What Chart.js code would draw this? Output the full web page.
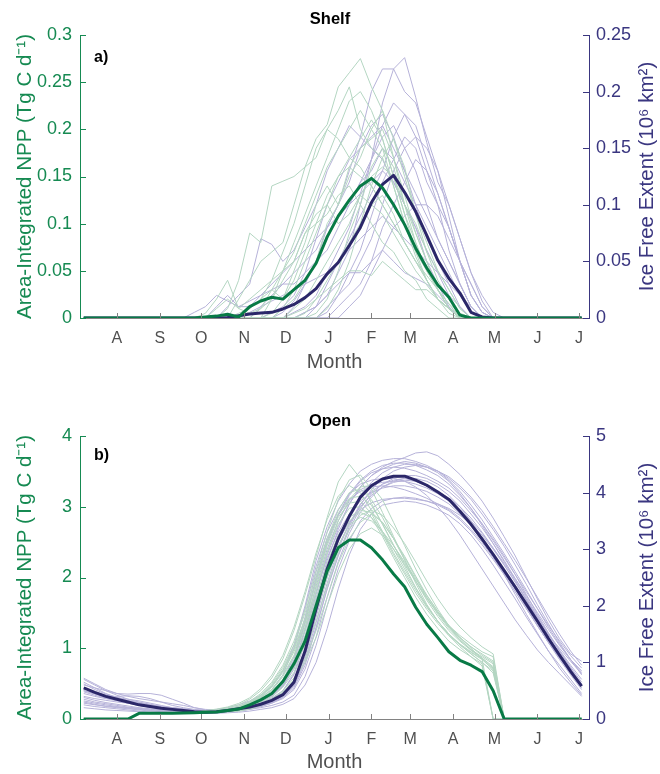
<!DOCTYPE html>
<html><head><meta charset="utf-8">
<script src="https://cdn.jsdelivr.net/npm/chart.js@4.4.1/dist/chart.umd.min.js"></script>
<style>
html,body{margin:0;padding:0;background:#fff;overflow:hidden;}
#wrap{position:relative;width:660px;height:774px;}
canvas{position:absolute;left:0;}
#cA{top:0;} #cB{top:390px;}
</style></head><body>
<div id="wrap">
<canvas id="cA" width="660" height="390"></canvas>
<canvas id="cB" width="660" height="384"></canvas>
</div>
<script>
// x positions: days relative to 1 August (8-day composites)
const DAYS = [-24,-16,-8,0,8,16,24,32,40,48, 56,64,72,80,88,96,104,112,120,128, 136,144,152,160,168,176,184,192,200,208, 216,224,232,240,248,256,264,272,280,288, 296,304,312,320,328,336];
const MONTH_DAYS = [0,31,61,92,122,153,184,212,243,273,304,334];
const MONTH_LABELS = ['A','S','O','N','D','J','F','M','A','M','J','J'];

// ---- Panel a: Shelf ----
const SHELF_NPP_MEAN = [0,0,0,0,0,0,0,0,0,0, 0,0.001,0.002,0.004,0.001,0.012,0.018,0.022,0.02,0.03, 0.04,0.058,0.086,0.108,0.125,0.14,0.148,0.138,0.12,0.099, 0.074,0.053,0.035,0.022,0.003,0,0,0,0,0, 0,0,0,0,0,0];
const SHELF_ICE_MEAN = [0,0,0,0,0,0,0,0,0,0, 0,0,0,0.0005,0.002,0.0035,0.0045,0.005,0.008,0.012, 0.018,0.026,0.039,0.049,0.064,0.08,0.102,0.118,0.126,0.111, 0.094,0.073,0.051,0.035,0.022,0.005,0.001,0,0,0, 0,0,0,0,0,0];
const SHELF_NPP_YEARS = [
 [0,0,0,0,0,0,0,0,0,0, 0,0,0,0.01,0.04,0.09,0.08,0.14,0.145,0.15, 0.16,0.19,0.205,0.245,0.26,0.275,0.245,0.22,0.17,0.12, 0.08,0.05,0.03,0.01,0,0,0,0,0,0, 0,0,0,0,0,0],
 [0,0,0,0,0,0,0,0,0,0, 0,0,0,0,0.02,0.04,0.06,0.07,0.08,0.12, 0.16,0.17,0.2,0.22,0.245,0.2,0.18,0.17,0.14,0.1, 0.07,0.05,0.03,0.015,0.005,0,0,0,0,0, 0,0,0,0,0,0],
 [0,0,0,0,0,0,0,0,0,0, 0,0,0,0,0,0,0,0,0.01,0.03, 0.06,0.09,0.12,0.15,0.16,0.18,0.19,0.2,0.17,0.13, 0.09,0.06,0.03,0.01,0,0,0,0,0,0, 0,0,0,0,0,0],
 [0,0,0,0,0,0,0,0,0,0, 0,0,0,0,0,0,0,0,0,0, 0.005,0.02,0.04,0.06,0.08,0.1,0.12,0.13,0.11,0.08, 0.06,0.04,0.02,0.005,0,0,0,0,0,0, 0,0,0,0,0,0],
 [0,0,0,0,0,0,0,0,0,0, 0,0,0,0,0,0,0,0,0,0.005, 0.01,0.02,0.03,0.04,0.05,0.05,0.045,0.06,0.05,0.04, 0.03,0.03,0.02,0.01,0,0,0,0,0,0, 0,0,0,0,0,0],
 [0,0,0,0,0,0,0,0,0,0, 0,0,0,0,0,0,0,0,0.01,0.02, 0.04,0.06,0.1,0.12,0.15,0.17,0.2,0.22,0.19,0.16, 0.11,0.07,0.04,0.02,0.005,0,0,0,0,0, 0,0,0,0,0,0],
 [0,0,0,0,0,0,0,0,0,0, 0,0,0,0,0,0,0.01,0.03,0.02,0.05, 0.08,0.12,0.14,0.12,0.16,0.15,0.14,0.12,0.1,0.08, 0.06,0.045,0.03,0.015,0,0,0,0,0,0, 0,0,0,0,0,0],
 [0,0,0,0,0,0,0,0,0,0, 0,0.005,0.02,0.04,0.01,0.02,0.03,0.04,0.05,0.06, 0.09,0.1,0.11,0.13,0.14,0.12,0.1,0.08,0.07,0.05, 0.04,0.02,0.01,0,0,0,0,0,0,0, 0,0,0,0,0,0],
 [0,0,0,0,0,0,0,0,0,0, 0,0,0,0,0,0,0,0,0,0, 0,0.005,0.02,0.05,0.09,0.12,0.16,0.18,0.16,0.12, 0.09,0.06,0.03,0.01,0,0,0,0,0,0, 0,0,0,0,0,0],
 [0,0,0,0,0,0,0,0,0,0, 0,0,0,0,0,0,0,0.02,0.05,0.07, 0.1,0.13,0.16,0.18,0.2,0.22,0.2,0.18,0.14,0.1, 0.065,0.04,0.02,0.01,0,0,0,0,0,0, 0,0,0,0,0,0],
 [0,0,0,0,0,0,0,0,0,0, 0,0,0,0,0,0,0,0.005,0.02,0.04, 0.07,0.1,0.13,0.15,0.17,0.19,0.21,0.19,0.15,0.11, 0.07,0.04,0.02,0.01,0,0,0,0,0,0, 0,0,0,0,0,0],
 [0,0,0,0,0,0,0,0,0,0, 0,0,0,0,0,0.01,0.02,0.03,0.05,0.08, 0.11,0.14,0.17,0.2,0.23,0.24,0.22,0.19,0.15,0.11, 0.08,0.05,0.03,0.01,0.005,0,0,0,0,0, 0,0,0,0,0,0],
 [0,0,0,0,0,0,0,0,0,0, 0,0,0,0,0,0,0,0,0,0.01, 0.02,0.04,0.06,0.08,0.1,0.13,0.15,0.16,0.15,0.12, 0.1,0.07,0.05,0.03,0.01,0,0,0,0,0, 0,0,0,0,0,0],
 [0,0,0,0,0,0,0,0,0,0, 0,0,0,0,0.005,0.01,0.02,0.04,0.07,0.1, 0.14,0.18,0.2,0.19,0.17,0.16,0.14,0.12,0.1,0.08, 0.06,0.04,0.02,0.01,0,0,0,0,0,0, 0,0,0,0,0,0],
 [0,0,0,0,0,0,0,0,0,0, 0,0,0,0,0,0,0,0,0,0, 0,0,0.01,0.03,0.06,0.1,0.14,0.17,0.19,0.15, 0.11,0.08,0.05,0.03,0.01,0,0,0,0,0, 0,0,0,0,0,0],
 [0,0,0,0,0,0,0,0,0,0, 0,0,0.01,0.02,0.01,0.005,0.01,0.02,0.04,0.06, 0.09,0.11,0.12,0.1,0.11,0.13,0.12,0.11,0.09,0.07, 0.05,0.035,0.02,0.01,0,0,0,0,0,0, 0,0,0,0,0,0]
];
const SHELF_ICE_YEARS = [
 [0,0,0,0,0,0,0,0,0,0, 0,0,0,0,0,0,0,0,0,0, 0.005,0.01,0.02,0.04,0.06,0.1,0.14,0.19,0.22,0.23, 0.195,0.155,0.12,0.1,0.07,0.04,0.015,0,0,0, 0,0,0,0,0,0],
 [0,0,0,0,0,0,0,0,0,0, 0,0,0,0,0,0,0,0,0,0.01, 0.03,0.05,0.08,0.1,0.13,0.16,0.2,0.22,0.22,0.2, 0.19,0.16,0.13,0.09,0.05,0.02,0.005,0,0,0, 0,0,0,0,0,0],
 [0,0,0,0,0,0,0,0,0,0, 0,0,0,0.01,0.02,0.03,0.07,0.065,0.05,0.06, 0.08,0.1,0.13,0.15,0.17,0.16,0.15,0.14,0.12,0.1, 0.08,0.05,0.03,0.01,0,0,0,0,0,0, 0,0,0,0,0,0],
 [0,0,0,0,0,0,0,0,0,0, 0,0,0,0,0,0,0,0,0,0, 0,0,0.005,0.02,0.04,0.06,0.09,0.12,0.14,0.16, 0.15,0.12,0.1,0.08,0.05,0.02,0.005,0,0,0, 0,0,0,0,0,0],
 [0,0,0,0,0,0,0,0,0,0, 0,0,0,0,0,0,0,0,0,0, 0.005,0.01,0.02,0.03,0.04,0.04,0.05,0.06,0.05,0.04, 0.035,0.03,0.02,0.01,0,0,0,0,0,0, 0,0,0,0,0,0],
 [0,0,0,0,0,0,0,0,0,0, 0,0,0,0,0,0,0,0,0.005,0.015, 0.03,0.05,0.07,0.09,0.1,0.12,0.13,0.15,0.14,0.12, 0.1,0.08,0.06,0.04,0.02,0.005,0,0,0,0, 0,0,0,0,0,0],
 [0,0,0,0,0,0,0,0,0,0, 0,0,0,0,0,0,0,0,0,0, 0,0.01,0.03,0.05,0.07,0.09,0.11,0.13,0.16,0.18, 0.17,0.14,0.11,0.08,0.05,0.03,0.01,0,0,0, 0,0,0,0,0,0],
 [0,0,0,0,0,0,0,0,0,0, 0.005,0.01,0.02,0.015,0.01,0.015,0.02,0.03,0.04,0.05, 0.06,0.07,0.08,0.09,0.1,0.11,0.12,0.13,0.12,0.1, 0.08,0.06,0.04,0.02,0.01,0,0,0,0,0, 0,0,0,0,0,0],
 [0,0,0,0,0,0,0,0,0,0, 0,0,0,0,0,0,0,0,0,0, 0,0,0,0.01,0.02,0.03,0.05,0.08,0.1,0.12, 0.14,0.13,0.11,0.08,0.05,0.02,0.005,0,0,0, 0,0,0,0,0,0],
 [0,0,0,0,0,0,0,0,0,0, 0,0,0,0,0,0,0.01,0.02,0.03,0.03, 0.04,0.05,0.06,0.08,0.1,0.12,0.14,0.17,0.19,0.18, 0.16,0.13,0.1,0.06,0.03,0.01,0,0,0,0, 0,0,0,0,0,0],
 [0,0,0,0,0,0,0,0,0,0, 0,0,0,0,0,0,0,0,0,0.005, 0.01,0.02,0.04,0.06,0.08,0.11,0.14,0.16,0.17,0.15, 0.13,0.1,0.07,0.05,0.03,0.01,0,0,0,0, 0,0,0,0,0,0],
 [0,0,0,0,0,0,0,0,0,0, 0,0,0.01,0.02,0.01,0.01,0.02,0.025,0.03,0.04, 0.05,0.06,0.08,0.1,0.12,0.15,0.17,0.18,0.16,0.13, 0.1,0.07,0.05,0.03,0.01,0,0,0,0,0, 0,0,0,0,0,0],
 [0,0,0,0,0,0,0,0,0,0, 0,0,0,0,0,0,0,0,0,0, 0,0,0,0,0.01,0.02,0.04,0.06,0.08,0.09, 0.1,0.1,0.09,0.07,0.05,0.03,0.01,0,0,0, 0,0,0,0,0,0],
 [0,0,0,0,0,0,0,0,0,0, 0,0,0,0,0,0,0,0.005,0.01,0.02, 0.04,0.07,0.1,0.12,0.14,0.15,0.16,0.17,0.15,0.13, 0.11,0.09,0.07,0.05,0.03,0.01,0,0,0,0, 0,0,0,0,0,0],
 [0,0,0,0,0,0,0,0,0,0, 0,0,0,0,0,0,0,0,0,0, 0,0,0.01,0.02,0.03,0.05,0.07,0.1,0.13,0.15, 0.16,0.15,0.13,0.1,0.07,0.04,0.02,0.005,0,0, 0,0,0,0,0,0],
 [0,0,0,0,0,0,0,0,0,0, 0,0,0,0,0,0.005,0.01,0.015,0.02,0.025, 0.03,0.035,0.04,0.05,0.06,0.07,0.08,0.09,0.08,0.07, 0.06,0.05,0.04,0.03,0.02,0.01,0,0,0,0, 0,0,0,0,0,0]
];

// ---- Panel b: Open ----
const OPEN_NPP_MEAN = [0,0,0,0,0,0.08,0.08,0.08,0.08,0.085, 0.09,0.095,0.1,0.12,0.14,0.2,0.27,0.36,0.53,0.78, 1.1,1.6,2.09,2.42,2.53,2.53,2.42,2.25,2.05,1.87, 1.58,1.34,1.15,0.95,0.83,0.76,0.67,0.4,0,0, 0,0,0,0,0,0];
const OPEN_ICE_MEAN = [0.55,0.47,0.4,0.35,0.3,0.25,0.22,0.19,0.17,0.15, 0.13,0.12,0.13,0.15,0.18,0.21,0.26,0.33,0.43,0.65, 1.2,1.95,2.65,3.18,3.58,3.92,4.12,4.24,4.29,4.29, 4.22,4.13,4.01,3.88,3.67,3.44,3.18,2.91,2.62,2.33, 2.03,1.73,1.42,1.13,0.84,0.58];
const OPEN_NPP_YEARS = [
 [0,0,0,0,0,0.08,0.08,0.08,0.08,0.09, 0.1,0.11,0.13,0.16,0.2,0.28,0.4,0.58,0.85,1.25, 1.75,2.3,2.85,3.35,3.6,3.4,3.05,2.75,2.45,2.2, 1.95,1.7,1.5,1.3,1.15,1.0,0.85,0.7,0,0, 0,0,0,0,0,0],
 [0,0,0,0,0,0.08,0.08,0.08,0.08,0.08, 0.08,0.09,0.09,0.1,0.11,0.14,0.19,0.27,0.38,0.55, 0.8,1.15,1.6,2.05,2.4,2.62,2.7,2.6,2.4,2.18, 1.95,1.72,1.5,1.3,1.12,0.98,0.88,0.78,0,0, 0,0,0,0,0,0],
 [0,0,0,0,0,0.08,0.08,0.08,0.08,0.09, 0.09,0.1,0.11,0.12,0.15,0.21,0.3,0.42,0.62,0.9, 1.3,1.8,2.35,2.8,3.1,3.28,3.3,3.1,2.78,2.45, 2.12,1.82,1.55,1.32,1.15,1.02,0.92,0.82,0,0, 0,0,0,0,0,0],
 [0,0,0,0,0,0.08,0.08,0.08,0.08,0.09, 0.1,0.11,0.12,0.13,0.16,0.22,0.31,0.45,0.66,0.95, 1.35,1.85,2.35,2.75,2.98,3.0,2.85,2.58,2.28,2.0, 1.72,1.48,1.28,1.1,0.98,0.88,0.78,0,0,0, 0,0,0,0,0,0],
 [0,0,0,0,0,0.08,0.08,0.08,0.08,0.09, 0.09,0.1,0.1,0.11,0.13,0.17,0.24,0.34,0.5,0.72, 1.05,1.5,2.0,2.45,2.75,2.85,2.8,2.65,2.45,2.22, 1.98,1.75,1.52,1.32,1.18,1.06,0.95,0.88,0,0, 0,0,0,0,0,0],
 [0,0,0,0,0,0.08,0.08,0.08,0.08,0.09, 0.1,0.11,0.12,0.14,0.18,0.25,0.36,0.52,0.76,1.1, 1.55,2.1,2.65,3.1,3.38,3.45,3.25,2.92,2.58,2.25, 1.92,1.62,1.38,1.18,1.02,0.88,0.75,0,0,0, 0,0,0,0,0,0],
 [0,0,0,0,0,0.08,0.08,0.08,0.08,0.09, 0.08,0.09,0.1,0.11,0.12,0.15,0.2,0.28,0.4,0.58, 0.85,1.25,1.72,2.2,2.55,2.78,2.9,2.78,2.55,2.28, 2.0,1.72,1.48,1.28,1.12,0.98,0.86,0.72,0,0, 0,0,0,0,0,0],
 [0,0,0,0,0,0.08,0.08,0.08,0.08,0.09, 0.1,0.1,0.11,0.13,0.17,0.23,0.33,0.48,0.7,1.0, 1.42,1.95,2.5,2.9,3.12,3.15,3.02,2.76,2.46,2.16, 1.86,1.6,1.38,1.2,1.05,0.92,0.8,0.68,0,0, 0,0,0,0,0,0],
 [0,0,0,0,0,0.08,0.08,0.08,0.08,0.09, 0.1,0.11,0.12,0.14,0.17,0.23,0.32,0.46,0.68,0.98, 1.4,1.92,2.45,2.85,3.05,3.08,2.9,2.62,2.32,2.05, 1.78,1.55,1.35,1.18,1.05,0.94,0.84,0.7,0,0, 0,0,0,0,0,0],
 [0,0,0,0,0,0.08,0.08,0.08,0.08,0.09, 0.09,0.1,0.11,0.12,0.14,0.19,0.27,0.38,0.56,0.82, 1.18,1.65,2.15,2.55,2.8,2.92,2.85,2.65,2.4,2.12, 1.85,1.6,1.38,1.2,1.06,0.95,0.85,0,0,0, 0,0,0,0,0,0],
 [0,0,0,0,0,0.08,0.08,0.08,0.08,0.09, 0.1,0.12,0.14,0.17,0.22,0.3,0.43,0.62,0.9,1.3, 1.8,2.35,2.82,3.15,3.3,3.2,2.95,2.65,2.35,2.08, 1.82,1.58,1.38,1.2,1.05,0.92,0.8,0.65,0,0, 0,0,0,0,0,0],
 [0,0,0,0,0,0.08,0.08,0.08,0.08,0.09, 0.09,0.1,0.1,0.11,0.13,0.16,0.22,0.31,0.45,0.66, 0.95,1.38,1.88,2.35,2.68,2.88,2.95,2.88,2.7,2.48, 2.22,1.95,1.7,1.48,1.3,1.15,1.02,0.92,0,0, 0,0,0,0,0,0],
 [0,0,0,0,0,0.08,0.08,0.08,0.08,0.09, 0.1,0.11,0.12,0.14,0.18,0.24,0.34,0.5,0.73,1.05, 1.5,2.02,2.55,2.95,3.2,3.25,3.1,2.85,2.55,2.25, 1.95,1.68,1.45,1.25,1.1,0.97,0.86,0.74,0,0, 0,0,0,0,0,0],
 [0,0,0,0,0,0.08,0.08,0.08,0.08,0.09, 0.09,0.1,0.11,0.12,0.15,0.2,0.28,0.4,0.6,0.88, 1.25,1.72,2.2,2.6,2.85,2.95,2.92,2.78,2.55,2.3, 2.02,1.75,1.52,1.32,1.15,1.02,0.9,0.8,0,0, 0,0,0,0,0,0]
];
const OPEN_ICE_YEARS = [
 [0.7,0.6,0.5,0.42,0.35,0.3,0.26,0.22,0.2,0.18, 0.16,0.15,0.17,0.2,0.25,0.32,0.42,0.58,0.85,1.3, 2.0,2.8,3.4,3.85,4.15,4.38,4.5,4.57,4.6,4.6, 4.55,4.48,4.38,4.22,4.02,3.78,3.52,3.22,2.92,2.6, 2.28,1.95,1.65,1.38,1.12,0.9],
 [0.3,0.26,0.22,0.2,0.18,0.16,0.14,0.13,0.12,0.11, 0.1,0.1,0.1,0.11,0.12,0.14,0.17,0.2,0.26,0.36, 0.6,1.0,1.6,2.3,2.9,3.35,3.62,3.78,3.82,3.85, 3.83,3.78,3.7,3.6,3.45,3.25,3.0,2.72,2.42,2.12, 1.8,1.5,1.2,0.95,0.7,0.45],
 [0.45,0.4,0.36,0.32,0.28,0.24,0.2,0.18,0.16,0.14, 0.13,0.12,0.12,0.14,0.17,0.22,0.3,0.42,0.62,1.0, 1.7,2.45,3.1,3.6,3.95,4.2,4.35,4.42,4.45,4.43, 4.38,4.3,4.2,4.08,3.9,3.68,3.45,3.18,2.88,2.55, 2.2,1.85,1.52,1.22,0.95,0.7],
 [0.6,0.55,0.5,0.45,0.44,0.45,0.45,0.42,0.35,0.28, 0.2,0.16,0.15,0.16,0.19,0.22,0.27,0.33,0.42,0.62, 1.1,1.8,2.5,3.05,3.45,3.75,3.95,4.1,4.18,4.22, 4.2,4.12,4.0,3.86,3.66,3.42,3.15,2.88,2.58,2.3, 2.02,1.75,1.48,1.25,1.02,0.8],
 [0.25,0.22,0.2,0.18,0.16,0.14,0.12,0.11,0.1,0.1, 0.1,0.11,0.12,0.14,0.16,0.2,0.26,0.34,0.5,0.8, 1.45,2.2,2.9,3.4,3.8,4.1,4.3,4.42,4.5,4.55, 4.52,4.45,4.35,4.2,3.98,3.72,3.42,3.1,2.78,2.45, 2.1,1.75,1.4,1.08,0.8,0.55],
 [0.5,0.44,0.38,0.33,0.28,0.24,0.21,0.18,0.16,0.14, 0.13,0.12,0.12,0.13,0.15,0.17,0.2,0.24,0.3,0.42, 0.75,1.3,2.0,2.65,3.15,3.5,3.72,3.85,3.9,3.92, 3.9,3.85,3.78,3.68,3.52,3.32,3.08,2.82,2.55,2.25, 1.95,1.65,1.35,1.05,0.78,0.52],
 [0.35,0.3,0.27,0.24,0.21,0.19,0.17,0.15,0.14,0.13, 0.12,0.12,0.13,0.15,0.18,0.22,0.28,0.37,0.5,0.78, 1.35,2.1,2.8,3.35,3.8,4.1,4.3,4.45,4.55,4.62, 4.7,4.72,4.65,4.5,4.32,4.1,3.85,3.55,3.22,2.88, 2.5,2.12,1.75,1.42,1.15,1.02],
 [0.65,0.55,0.45,0.38,0.32,0.27,0.23,0.2,0.18,0.16, 0.15,0.14,0.15,0.18,0.22,0.28,0.38,0.52,0.78,1.25, 1.95,2.7,3.3,3.7,3.98,4.15,4.22,4.25,4.25,4.2, 4.1,3.95,3.75,3.52,3.25,2.95,2.65,2.35,2.05,1.75, 1.48,1.22,1.0,0.8,0.6,0.4],
 [0.4,0.36,0.33,0.3,0.28,0.26,0.24,0.2,0.18,0.16, 0.14,0.13,0.13,0.14,0.16,0.19,0.24,0.3,0.4,0.6, 1.05,1.7,2.4,3.0,3.45,3.8,4.02,4.15,4.22,4.25, 4.2,4.12,4.02,3.9,3.75,3.55,3.3,3.02,2.72,2.42, 2.12,1.8,1.5,1.2,0.92,0.65],
 [0.55,0.48,0.42,0.38,0.35,0.32,0.28,0.24,0.2,0.17, 0.15,0.13,0.13,0.15,0.18,0.23,0.3,0.4,0.58,0.92, 1.6,2.35,3.0,3.5,3.85,4.05,4.15,4.18,4.2,4.2, 4.15,4.08,3.98,3.85,3.7,3.5,3.28,3.02,2.75,2.48, 2.18,1.88,1.58,1.3,1.05,0.85],
 [0.62,0.52,0.44,0.38,0.33,0.29,0.25,0.22,0.19,0.17, 0.15,0.14,0.14,0.16,0.2,0.26,0.34,0.46,0.68,1.1, 1.8,2.6,3.2,3.6,3.88,4.02,4.1,4.12,4.1,4.05, 3.98,3.9,3.8,3.7,3.55,3.35,3.12,2.85,2.55,2.25, 1.95,1.65,1.35,1.08,0.82,0.6],
 [0.28,0.25,0.23,0.21,0.19,0.17,0.15,0.13,0.12,0.11, 0.11,0.11,0.12,0.13,0.15,0.18,0.23,0.29,0.38,0.55, 0.95,1.6,2.3,2.9,3.4,3.78,4.05,4.25,4.38,4.45, 4.48,4.45,4.38,4.25,4.08,3.88,3.62,3.35,3.05,2.72, 2.38,2.02,1.68,1.35,1.05,0.78],
 [0.48,0.42,0.37,0.34,0.31,0.28,0.25,0.22,0.2,0.18, 0.16,0.15,0.15,0.16,0.19,0.24,0.31,0.42,0.6,0.95, 1.55,2.25,2.85,3.3,3.62,3.85,4.0,4.08,4.12,4.12, 4.08,4.02,3.92,3.8,3.62,3.42,3.18,2.92,2.62,2.3, 1.98,1.65,1.35,1.08,0.82,0.58],
 [0.2,0.18,0.16,0.15,0.14,0.13,0.12,0.11,0.1,0.1, 0.1,0.1,0.11,0.12,0.14,0.17,0.22,0.28,0.38,0.58, 1.0,1.62,2.3,2.88,3.35,3.72,3.98,4.15,4.25,4.3, 4.3,4.25,4.15,4.02,3.85,3.62,3.38,3.1,2.8,2.48, 2.15,1.82,1.5,1.2,0.9,0.6],
 [0.72,0.62,0.52,0.45,0.4,0.36,0.33,0.3,0.27,0.24, 0.2,0.17,0.16,0.17,0.2,0.25,0.33,0.45,0.66,1.05, 1.72,2.5,3.15,3.62,3.98,4.22,4.38,4.48,4.52,4.52, 4.48,4.4,4.3,4.15,3.95,3.72,3.45,3.15,2.85,2.55, 2.25,1.95,1.62,1.32,1.05,0.82],
 [0.38,0.33,0.29,0.26,0.23,0.2,0.18,0.16,0.15,0.14, 0.13,0.13,0.14,0.16,0.2,0.25,0.32,0.42,0.58,0.88, 1.45,2.1,2.7,3.15,3.48,3.7,3.82,3.88,3.9,3.9, 3.88,3.85,3.8,3.72,3.6,3.45,3.25,3.0,2.72,2.42, 2.1,1.78,1.45,1.15,0.88,0.62],
 [0.5,0.45,0.4,0.4,0.41,0.4,0.36,0.3,0.24,0.2, 0.17,0.15,0.14,0.15,0.17,0.2,0.25,0.32,0.44,0.68, 1.2,1.9,2.62,3.2,3.62,3.95,4.18,4.35,4.45,4.5, 4.5,4.45,4.38,4.28,4.12,3.92,3.68,3.4,3.1,2.8, 2.48,2.15,1.82,1.5,1.2,0.95],
 [0.32,0.28,0.25,0.22,0.2,0.18,0.16,0.15,0.14,0.13, 0.12,0.12,0.12,0.13,0.15,0.18,0.22,0.28,0.36,0.52, 0.88,1.45,2.15,2.78,3.28,3.65,3.92,4.1,4.2,4.25, 4.25,4.2,4.1,3.95,3.75,3.5,3.2,2.88,2.55,2.2, 1.85,1.52,1.2,0.9,0.65,0.42]
];

// ---- styling ----
const FONT = '"Liberation Sans", Arial, Helvetica, sans-serif';
Chart.defaults.font.family = FONT;
const GREEN_BOLD = 'rgb(8,122,70)';
const PURPLE_BOLD = 'rgb(43,39,105)';
const GREEN_THIN = 'rgb(180,214,194)';
const PURPLE_THIN = 'rgb(182,178,217)';
const LEFT_AXIS = 'rgb(22,138,82)';
const RIGHT_AXIS = 'rgb(58,54,128)';
const GRAY_AXIS = 'rgb(130,130,130)';
const GRAY_TEXT = 'rgb(80,80,80)';

function pts(arr){ return DAYS.map((d,i)=>({x:d, y:arr[i]})); }

const decor = {
  id: 'decor',
  afterDraw(chart, args, o) {
    const ctx = chart.ctx, ca = chart.chartArea;
    const xs = chart.scales.x, yl = chart.scales.yL, yr = chart.scales.yR;
    ctx.save();
    ctx.lineWidth = 1;
    ctx.strokeStyle = GRAY_AXIS;
    xs.ticks.forEach(t => {
      const px = Math.round(xs.getPixelForValue(t.value)) + 0.5;
      ctx.beginPath(); ctx.moveTo(px, ca.bottom); ctx.lineTo(px, ca.bottom - 5); ctx.stroke();
    });
    ctx.strokeStyle = LEFT_AXIS;
    yl.ticks.forEach(t => {
      const py = Math.round(yl.getPixelForValue(t.value)) + 0.5;
      ctx.beginPath(); ctx.moveTo(ca.left, py); ctx.lineTo(ca.left + 6, py); ctx.stroke();
    });
    ctx.strokeStyle = RIGHT_AXIS;
    yr.ticks.forEach(t => {
      const py = Math.round(yr.getPixelForValue(t.value)) + 0.5;
      ctx.beginPath(); ctx.moveTo(ca.right, py); ctx.lineTo(ca.right - 6, py); ctx.stroke();
    });
    // right axis title (reads bottom to top)
    ctx.translate(647, (ca.top + ca.bottom) / 2);
    ctx.rotate(-Math.PI / 2);
    ctx.fillStyle = RIGHT_AXIS;
    ctx.font = '20.5px ' + FONT;
    ctx.textAlign = 'center';
    ctx.textBaseline = 'middle';
    ctx.fillText(o.rightTitle, 0, 0);
    ctx.restore();
    // panel label
    ctx.save();
    ctx.fillStyle = '#000';
    ctx.font = 'bold 16px ' + FONT;
    ctx.textAlign = 'left';
    ctx.textBaseline = 'alphabetic';
    ctx.fillText(o.panel, 94, ca.top + o.panelDy);
    ctx.restore();
  }
};

function fmt(v){ return String(+Number(v).toFixed(3)); }

function makePanel(id, p) {
  const datasets = [];
  datasets.push({data: pts(p.nppMean), yAxisID:'yL', borderColor: GREEN_BOLD, borderWidth: 3});
  datasets.push({data: pts(p.iceMean), yAxisID:'yR', borderColor: PURPLE_BOLD, borderWidth: 3});
  p.nppYears.forEach(a => datasets.push({data: pts(a), yAxisID:'yL', borderColor: GREEN_THIN, borderWidth: 1}));
  p.iceYears.forEach(a => datasets.push({data: pts(a), yAxisID:'yR', borderColor: PURPLE_THIN, borderWidth: 1}));
  datasets.forEach(d => { d.pointRadius = 0; d.tension = 0; d.fill = false; d.borderJoinStyle = 'round'; });
  return new Chart(document.getElementById(id), {
    type: 'line',
    data: { datasets },
    options: {
      responsive: false, animation: false, events: [],
      layout: { padding: 0 },
      plugins: {
        legend: { display: false }, tooltip: { enabled: false },
        title: { display: true, text: p.title, color: '#000',
                 font: { size: 16.5, weight: 'bold', lineHeight: 1.2 },
                 padding: { top: p.titleTop, bottom: p.titleBottom } },
        decor: { rightTitle: 'Ice Free Extent (10\u2076 km\u00B2)', panel: p.panel, panelDy: p.panelDy }
      },
      scales: {
        x: {
          type: 'linear', position: 'bottom', min: -26.7, max: 341.3,
          grid: { display: false, drawTicks: false },
          border: { display: true, color: GRAY_AXIS, width: 1 },
          afterBuildTicks: s => { s.ticks = MONTH_DAYS.map(v => ({ value: v })); },
          afterFit: s => { s.height = p.xHeight; },
          ticks: { autoSkip: false, maxRotation: 0, padding: 11, color: GRAY_TEXT,
                   font: { size: 16 }, callback: (v, i) => MONTH_LABELS[i] },
          title: { display: true, text: 'Month', color: GRAY_TEXT,
                   font: { size: 20, lineHeight: 1 }, padding: { top: 0, bottom: p.monthPad } }
        },
        yL: {
          type: 'linear', position: 'left', min: 0, max: p.leftMax,
          grid: { display: false, drawTicks: false },
          border: { display: true, color: LEFT_AXIS, width: 1 },
          afterFit: s => { s.width = 80; },
          ticks: { stepSize: p.leftStep, padding: 8, color: LEFT_AXIS, font: { size: 18 }, callback: fmt },
          title: { display: true, text: 'Area-Integrated NPP (Tg C d\u207B\u00B9)', color: LEFT_AXIS,
                   font: { size: 20.5, lineHeight: 1 }, padding: { top: 15.5, bottom: 0 } }
        },
        yR: {
          type: 'linear', position: 'right', min: 0, max: p.rightMax,
          grid: { display: false, drawTicks: false },
          border: { display: true, color: RIGHT_AXIS, width: 1 },
          afterFit: s => { s.width = 71; },
          ticks: { stepSize: p.rightStep, padding: 7, color: RIGHT_AXIS, font: { size: 18 }, callback: fmt }
        }
      }
    },
    plugins: [decor]
  });
}

makePanel('cA', { title: 'Shelf', panel: 'a)', panelDy: 27, titleTop: 9.1, titleBottom: 6.1, xHeight: 72, monthPad: 18,
  leftMax: 0.3, leftStep: 0.05, rightMax: 0.25, rightStep: 0.05,
  nppMean: SHELF_NPP_MEAN, iceMean: SHELF_ICE_MEAN, nppYears: SHELF_NPP_YEARS, iceYears: SHELF_ICE_YEARS });
makePanel('cB', { title: 'Open', panel: 'b)', panelDy: 24, titleTop: 21.1, titleBottom: 5.1, xHeight: 55, monthPad: 2,
  leftMax: 4, leftStep: 1, rightMax: 5, rightStep: 1,
  nppMean: OPEN_NPP_MEAN, iceMean: OPEN_ICE_MEAN, nppYears: OPEN_NPP_YEARS, iceYears: OPEN_ICE_YEARS });
</script>
</body></html>
